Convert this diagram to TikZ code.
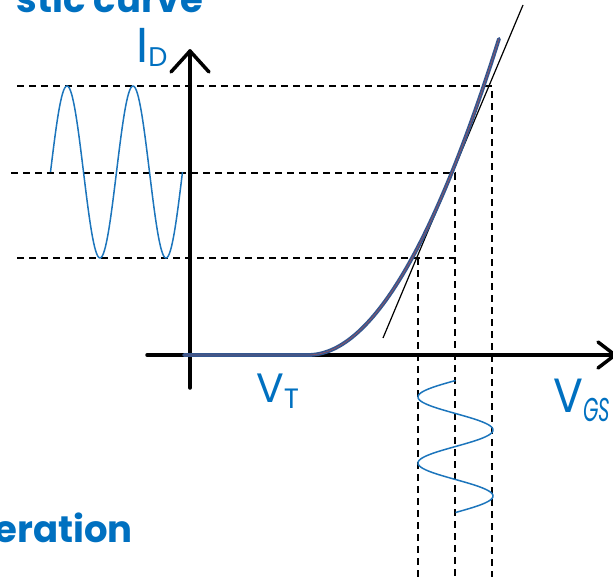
\documentclass[tikz,border=0pt]{standalone}
\usepackage{fontspec}
\setmainfont{Poppins}
\definecolor{lblue}{HTML}{0070C0}
\definecolor{wblue}{HTML}{1C75BC}
\definecolor{cblue}{HTML}{35578F}
\definecolor{cred}{HTML}{C0504D}
\begin{document}
\begin{tikzpicture}[x=1pt,y=-1pt,
  axis/.style={line width=3.5pt, line cap=round, line join=round},
  guide/.style={line width=1.3pt, dash pattern=on 7pt off 5pt},
  wave/.style={wblue, line width=1.5pt},
  lbl/.style={text=lblue, inner sep=0pt},
  title/.style={text=lblue, inner sep=0pt, font=\fontsize{37}{37}\selectfont\bfseries},
  charc/.style={draw=cblue, line width=3.8pt, line cap=round, line join=round,
                postaction={draw=cred, line width=0.4pt}},
  tang/.style={line width=1.2pt}]
\useasboundingbox (0,0) rectangle (613,576);
\clip (0,0) rectangle (613,576);
% axes
\coordinate (yb) at (190,388);
\coordinate (yt) at (190,51);
\coordinate (xl) at (147,355);
\coordinate (xt) at (615,355);
\draw[axis] (yb) -- (yt);
\draw[axis] ([shift={(-19,21)}]yt) -- (yt) -- ([shift={(19,21)}]yt);
\draw[axis] (xl) -- (xt);
\draw[axis] ([shift={(-17,-13)}]xt) -- (xt) -- ([shift={(-17,13)}]xt);
% dashed guides
\coordinate (h1a) at (17,86);  \coordinate (h1b) at (492,86);  \coordinate (v1b) at (492,580);
\coordinate (h2a) at (11,173); \coordinate (h2b) at (455,173); \coordinate (v2b) at (455,580);
\coordinate (h3a) at (17,258); \coordinate (h3b) at (455,258);
\coordinate (v3a) at (418,258); \coordinate (v3b) at (418,580);
\draw[guide] (h1a) -- (h1b) -- (v1b);
\draw[guide] (h2a) -- (h2b) -- (v2b);
\draw[guide] (h3a) -- (h3b);
\draw[guide] (v3a) -- (v3b);
% tangent
\coordinate (ta) at (383,338);
\coordinate (tb) at (523,5);
\draw[tang] (ta) -- (tb);
% characteristic
\coordinate (c0) at (184,355);
\coordinate (vt) at (308,355);
\path[charc] (c0) -- (vt) -- plot[domain=0:1.91, samples=80, smooth]
  ({308+100*\x}, {355-93*\x*\x+3.3*\x*\x*\x});
% waves
\draw[wave] plot[domain=50.5:182.5, samples=160, smooth] (\x, {172-86*sin(5.454545*(\x-50.5))});
\draw[wave] plot[domain=380.5:512.5, samples=160, smooth] ({455.5-37.5*sin(5.454545*(\x-380.5))}, \x);
% labels
\node[lbl, anchor=base west, font=\fontsize{49}{49}\selectfont] (id) at (136,62)
  {I\raisebox{-4pt}{\fontsize{27}{27}\selectfont D}};
\node[lbl, anchor=base west, font=\fontsize{41}{41}\selectfont] (vtl) at (256,402)
  {V\raisebox{-6pt}{\fontsize{28}{28}\selectfont T}};
\node[lbl, anchor=base west, font=\fontsize{48}{48}\selectfont] (vgs) at (553,412)
  {\scalebox{0.92}[1]{V}\raisebox{-9pt}{\scalebox{0.6}[1]{\fontsize{33}{33}\selectfont\itshape GS}}};
\node[title, anchor=base east] (t1) at (203,12) {stic curve};
\node[title, anchor=base east] (t2) at (133,542) {eration};
\end{tikzpicture}
\end{document}
